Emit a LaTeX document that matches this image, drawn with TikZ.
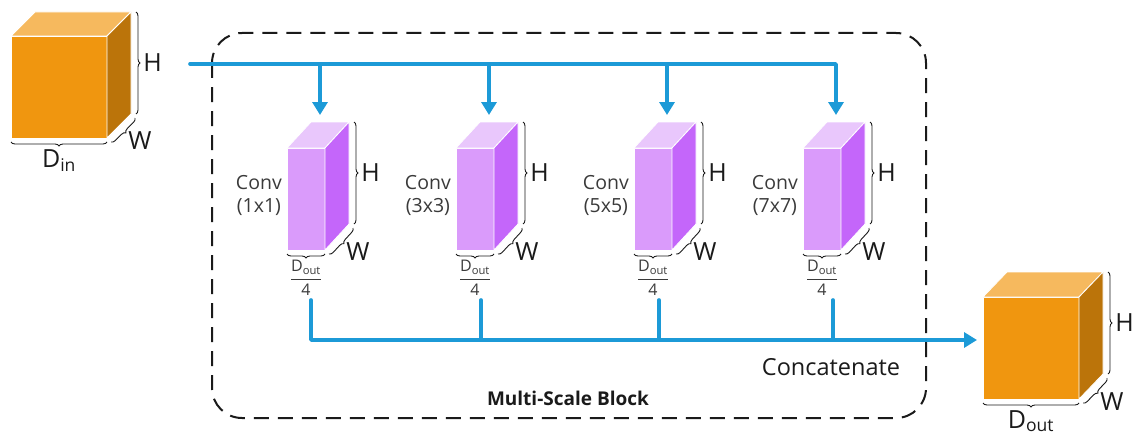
\documentclass[tikz,border=0pt]{standalone}
\usepackage{fontspec}
\usepackage{amsmath}
\setmainfont{Open Sans}
\usetikzlibrary{arrows.meta,decorations.pathreplacing,calc}

\definecolor{orfront}{HTML}{F0960F}
\definecolor{ortop}{HTML}{F6B95E}
\definecolor{orside}{HTML}{BB740A}
\definecolor{vifront}{HTML}{DA9BFB}
\definecolor{vitop}{HTML}{E9C7FC}
\definecolor{viside}{HTML}{C466FA}
\definecolor{flow}{HTML}{1C9AD7}
\definecolor{ink}{HTML}{1A1A1A}
\definecolor{inkgray}{HTML}{3A3A3A}

\tikzset{
  face/.style={draw=white, line width=0.8pt, line join=round},
  dimbrace/.style={draw=ink, line width=0.9pt,
    decorate, decoration={brace, amplitude=4pt}},
  dimlabel/.style={text=ink, font=\fontsize{25}{27}\selectfont, inner sep=0pt},
  convlabel/.style={text=inkgray, font=\fontsize{19.5}{23}\selectfont, align=center, inner sep=0pt},
  fraclabel/.style={text=inkgray, font=\fontsize{16}{18}\selectfont, inner sep=0pt},
  flowline/.style={draw=flow, line width=3.6pt, line cap=round, line join=round},
  flowarrow/.style={flowline, -{Triangle[length=13pt,width=15pt]}},
  blockframe/.style={draw=ink, line width=2pt, dash pattern=on 15pt off 9pt, rounded corners=30pt},
}

% #1 name, #2 left x, #3 top y of front face, #4 width, #5 height,
% #6 depth dx, #7 depth dy, #8 palette prefix
\newcommand{\prism}[8]{%
  \coordinate (#1-ftl) at (#2,#3);
  \coordinate (#1-ftr) at (#2+#4,#3);
  \coordinate (#1-fbl) at (#2,#3+#5);
  \coordinate (#1-fbr) at (#2+#4,#3+#5);
  \coordinate (#1-btl) at (#2+#6,#3-#7);
  \coordinate (#1-btr) at (#2+#4+#6,#3-#7);
  \coordinate (#1-bbr) at (#2+#4+#6,#3+#5-#7);
  \path[face, fill=#8front] (#1-ftl) -- (#1-ftr) -- (#1-fbr) -- (#1-fbl) -- cycle;
  \path[face, fill=#8top] (#1-ftl) -- (#1-btl) -- (#1-btr) -- (#1-ftr) -- cycle;
  \path[face, fill=#8side] (#1-ftr) -- (#1-btr) -- (#1-bbr) -- (#1-fbr) -- cycle;
  % height, width and depth braces
  \draw[dimbrace] ($(#1-btr)+(5,0)$) -- ($(#1-bbr)+(5,0)$)
    node[midway, anchor=west, xshift=7pt, dimlabel] (#1-H) {H};
  \draw[dimbrace] ($(#1-bbr)+(4,4)$) -- ($(#1-fbr)+(4,4)$)
    coordinate[midway] (#1-wmid);
  \node[dimlabel] (#1-W) at ($(#1-wmid)+(17,11)$) {W};
  \draw[dimbrace] ($(#1-fbr)+(0,4)$) -- ($(#1-fbl)+(0,4)$)
    coordinate[midway] (#1-dmid);
  \coordinate (#1-dtip) at ($(#1-dmid)+(0,8)$);
}

\begin{document}
\begin{tikzpicture}[x=1pt, y=-1pt]
  \useasboundingbox (0,0) rectangle (1135,436);

  % multi-scale block frame
  \draw[blockframe] (212,33) rectangle (926,418);
  \node[font=\fontsize{19}{21}\selectfont\bfseries, text=ink, inner sep=0pt] (msb) at (568,398) {Multi-Scale Block};

  % input tensor
  \prism{in}{11}{36}{96}{102}{24}{24}{or}
  \node[dimlabel, anchor=north] (din) at ($(in-dtip)+(0,-1)$) {D\textsubscript{in}};

  % parallel convolution branches
  \prism{k1}{287}{148}{38}{102}{24}{26}{vi}
  \prism{k2}{456}{148}{38}{102}{24}{26}{vi}
  \prism{k3}{634}{148}{38}{102}{24}{26}{vi}
  \prism{k4}{803}{148}{38}{102}{24}{26}{vi}

  \node[convlabel, anchor=east] (l1) at ($(k1-ftl)+(-5,47)$) {Conv\\(1x1)};
  \node[convlabel, anchor=east] (l2) at ($(k2-ftl)+(-5,47)$) {Conv\\(3x3)};
  \node[convlabel, anchor=east] (l3) at ($(k3-ftl)+(-5,47)$) {Conv\\(5x5)};
  \node[convlabel, anchor=east] (l4) at ($(k4-ftl)+(-5,47)$) {Conv\\(7x7)};

  \foreach \k in {1,2,3,4}{
    \node[fraclabel, anchor=north] (f\k) at ($(k\k-dtip)+(0,-2)$)
      {$\dfrac{\text{D\textsubscript{out}}}{\text{4}}$};
  }

  % output tensor
  \prism{out}{983}{297}{96}{102}{24}{25}{or}
  \node[dimlabel, anchor=north] (dout) at ($(out-dtip)+(0,-1)$) {D\textsubscript{out}};

  % split into the four branches
  \coordinate (busin) at (190,64);
  \foreach \k in {1,2,3,4}{
    \coordinate (k\k-in) at ($(k\k-ftl)+(33,-33)$);
  }
  \draw[flowarrow] (busin) -| (k4-in);
  \foreach \k in {1,2,3}{
    \draw[flowarrow] (busin -| k\k-in) -- (k\k-in);
  }

  % concatenation of the branch outputs
  \coordinate (k1-out) at (311,300);
  \coordinate (k2-out) at (481,300);
  \coordinate (k3-out) at (659,300);
  \coordinate (k4-out) at (833,300);
  \coordinate (cat-in) at (977,340);
  \draw[flowarrow] (k1-out) |- (cat-in);
  \foreach \k in {2,3,4}{
    \draw[flowline] (k\k-out) -- (k\k-out |- cat-in);
  }
  \node[text=ink, font=\fontsize{23.5}{25}\selectfont, inner sep=0pt] (cat) at (831,367) {Concatenate};
\end{tikzpicture}
\end{document}
